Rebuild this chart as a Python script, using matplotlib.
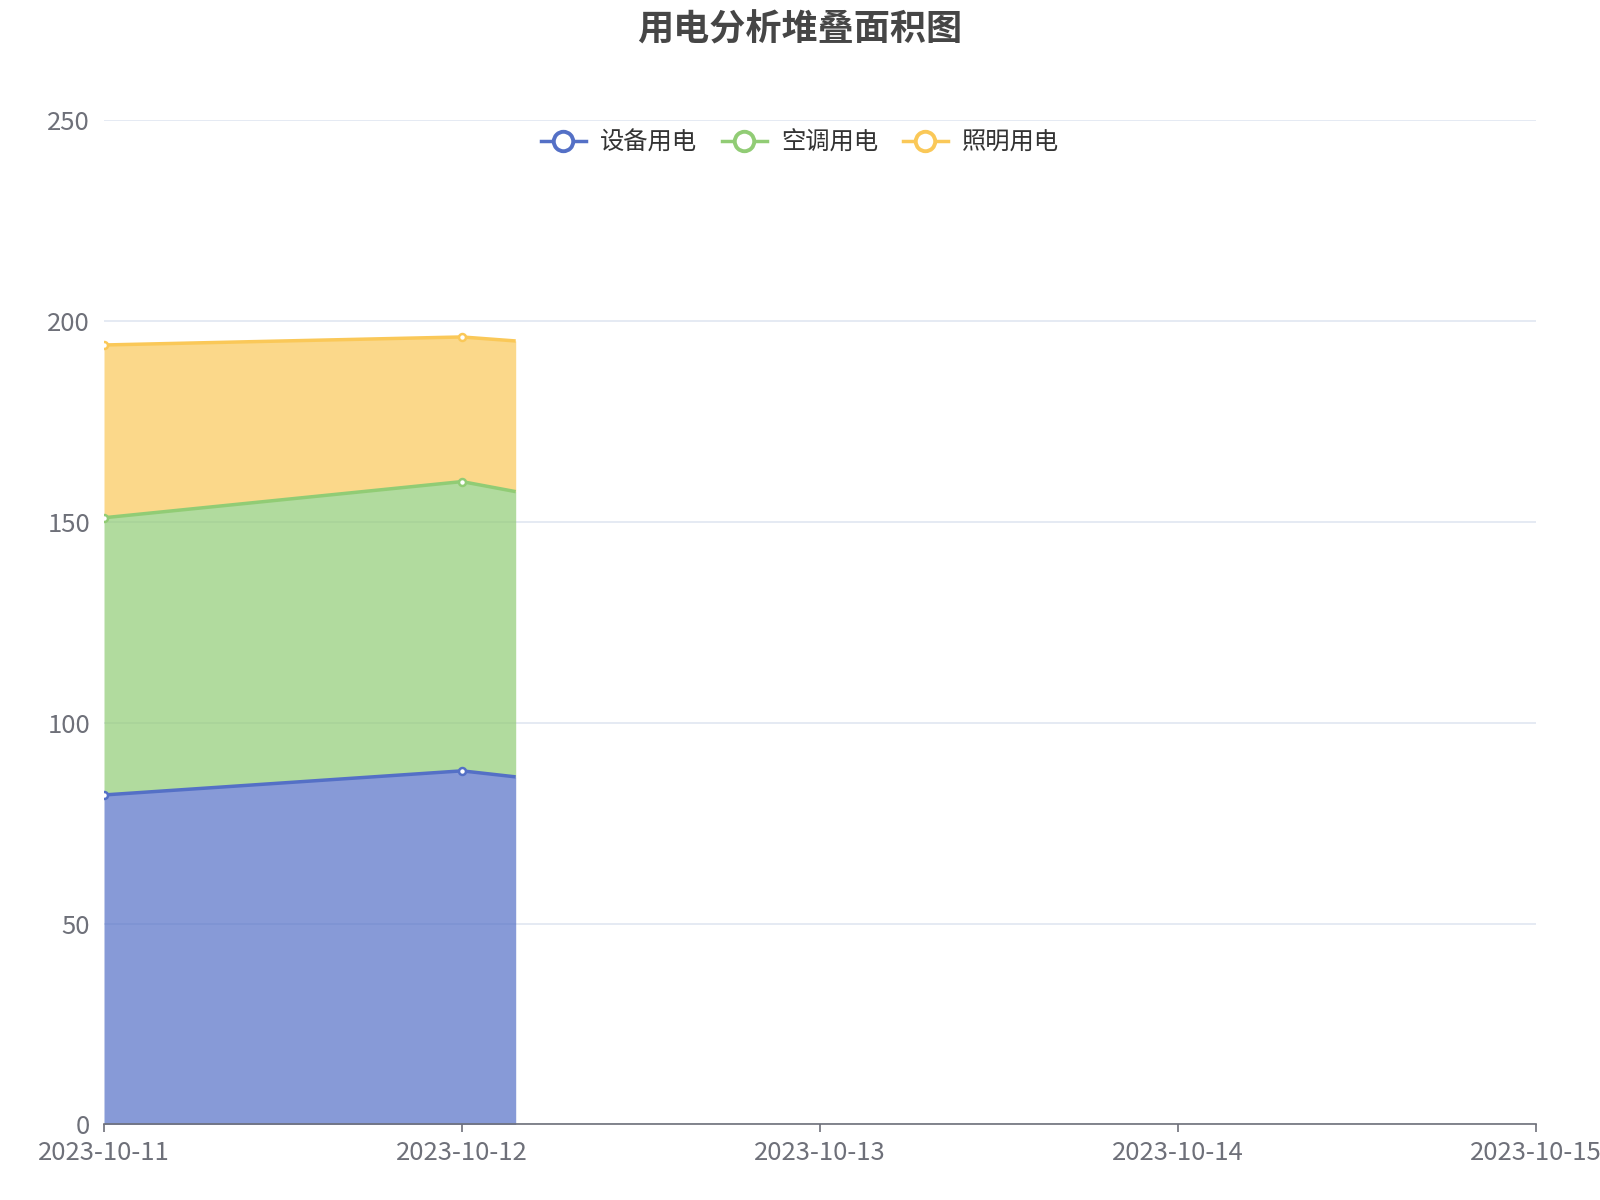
import numpy as np
import pandas as pd
import matplotlib
matplotlib.use("Agg")
import matplotlib.pyplot as plt
import matplotlib.dates as mdates
from matplotlib.lines import Line2D

plt.rcParams['font.family'] = ['Noto Sans CJK SC', 'DejaVu Sans']

# data
times = pd.to_datetime(["2023-10-11 00:00", "2023-10-12 00:00", "2023-10-12 03:36"])
names = ["设备用电", "空调用电", "照明用电"]
equip = [82, 88, 86.5]
aircon = [69, 72, 71]
light = [43, 36, 37.5]
colors = ["#5470c6", "#91cc75", "#fac858"]
tick_days = pd.date_range("2023-10-11", "2023-10-15", freq="D")

fig = plt.figure(figsize=(16, 12), dpi=100)
ax = fig.add_axes([0.065, 0.063, 0.895, 0.837])

series = [equip, aircon, light]
base = np.zeros(len(times))
for name, vals, c in zip(names, series, colors):
    top = base + np.array(vals)
    ax.fill_between(times, base, top, color=c, alpha=0.7, linewidth=0, zorder=2)
    ax.plot(times, top, color=c, lw=2.5, zorder=3, solid_capstyle='butt')
    ax.plot(times[:2], top[:2], 'o', ms=5, mfc='white', mec=c, mew=1.8, zorder=4)
    base = top

ax.set_ylim(0, 250)
ax.set_yticks([0, 50, 100, 150, 200, 250])
ax.set_xlim(tick_days[0], tick_days[-1])
ax.set_xticks(tick_days)
ax.xaxis.set_major_formatter(mdates.DateFormatter("%Y-%m-%d"))

ax.grid(axis='y', color='#e0e6f1', lw=1.2, zorder=0)
ax.set_axisbelow(True)
for s in ['top', 'right', 'left']:
    ax.spines[s].set_visible(False)
ax.spines['bottom'].set_color('#6e7079')
ax.spines['bottom'].set_linewidth(1.2)
ax.tick_params(axis='y', length=0, pad=10, labelsize=18.5, labelcolor='#6e7079')
ax.tick_params(axis='x', length=6, width=1.2, color='#6e7079', pad=5,
               labelsize=18.5, labelcolor='#6e7079')

fig.suptitle("用电分析堆叠面积图", x=0.5, y=0.99, fontsize=26,
             fontweight='bold', color='#464646', va='top')

handles = [Line2D([0], [0], color=c, lw=2.5, marker='o', ms=14,
                  mfc='white', mec=c, mew=2.8) for c in colors]
fig.legend(handles, names, loc='center', bbox_to_anchor=(0.5, 0.881), ncol=3,
           frameon=False, fontsize=17.5, handlelength=1.85, columnspacing=1.0,
           handletextpad=0.6, labelcolor='#333333')

fig.savefig("out.png")
